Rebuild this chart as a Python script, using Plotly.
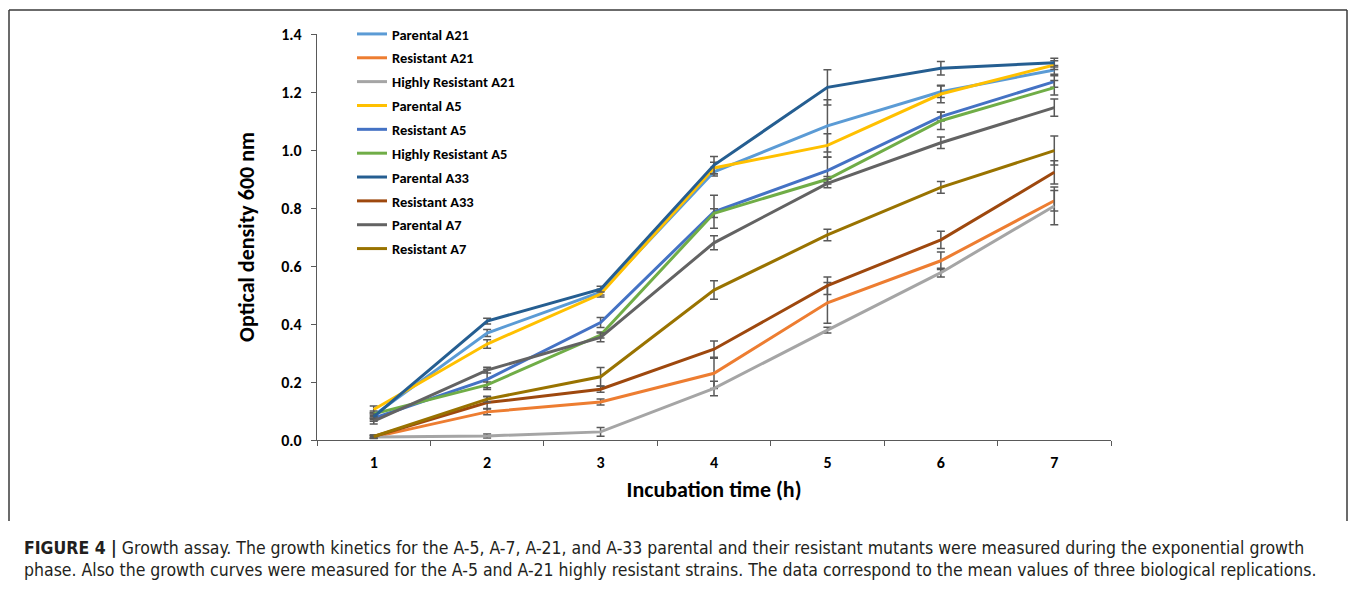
import plotly.graph_objects as go

time_h = [1, 2, 3, 4, 5, 6, 7]

series_names = [
    "Parental A21", "Resistant A21", "Highly Resistant A21", "Parental A5",
    "Resistant A5", "Highly Resistant A5", "Parental A33", "Resistant A33",
    "Parental A7", "Resistant A7",
]
series_colors = [
    "#5B9BD5", "#ED7D31", "#A5A5A5", "#FFC000", "#4472C4",
    "#70AD47", "#255E91", "#9E480E", "#636363", "#997300",
]

parental_a21 = [0.085, 0.369, 0.510, 0.925, 1.083, 1.201, 1.276]
resistant_a21 = [0.010, 0.097, 0.131, 0.230, 0.473, 0.618, 0.825]
highly_resistant_a21 = [0.010, 0.014, 0.028, 0.178, 0.379, 0.577, 0.807]
parental_a5 = [0.105, 0.331, 0.503, 0.938, 1.016, 1.193, 1.293]
resistant_a5 = [0.075, 0.209, 0.405, 0.787, 0.929, 1.115, 1.236]
highly_resistant_a5 = [0.090, 0.190, 0.362, 0.782, 0.899, 1.101, 1.215]
parental_a33 = [0.080, 0.410, 0.520, 0.948, 1.216, 1.282, 1.301]
resistant_a33 = [0.012, 0.129, 0.175, 0.313, 0.532, 0.690, 0.923]
parental_a7 = [0.065, 0.241, 0.354, 0.680, 0.885, 1.025, 1.146]
resistant_a7 = [0.012, 0.141, 0.218, 0.517, 0.707, 0.871, 0.998]

err_parental_a21 = [0.010, 0.012, 0.010, 0.015, 0.090, 0.020, 0.015]
err_resistant_a21 = [0.005, 0.010, 0.010, 0.052, 0.070, 0.030, 0.035]
err_highly_resistant_a21 = [0.003, 0.007, 0.015, 0.025, 0.010, 0.015, 0.065]
err_parental_a5 = [0.012, 0.015, 0.010, 0.020, 0.040, 0.030, 0.015]
err_resistant_a5 = [0.010, 0.035, 0.017, 0.057, 0.046, 0.015, 0.020]
err_highly_resistant_a5 = [0.010, 0.010, 0.010, 0.015, 0.010, 0.030, 0.025]
err_parental_a33 = [0.010, 0.010, 0.010, 0.030, 0.061, 0.023, 0.015]
err_resistant_a33 = [0.005, 0.020, 0.010, 0.028, 0.030, 0.030, 0.040]
err_parental_a7 = [0.010, 0.010, 0.015, 0.024, 0.015, 0.020, 0.030]
err_resistant_a7 = [0.005, 0.010, 0.032, 0.032, 0.020, 0.020, 0.050]

series_values = [
    parental_a21, resistant_a21, highly_resistant_a21, parental_a5, resistant_a5,
    highly_resistant_a5, parental_a33, resistant_a33, parental_a7, resistant_a7,
]
series_errors = [
    err_parental_a21, err_resistant_a21, err_highly_resistant_a21, err_parental_a5,
    err_resistant_a5, err_highly_resistant_a5, err_parental_a33, err_resistant_a33,
    err_parental_a7, err_resistant_a7,
]

y_ticks = [0.0, 0.2, 0.4, 0.6, 0.8, 1.0, 1.2, 1.4]

caption_line1 = ("<b>FIGURE 4 |</b> Growth assay. The growth kinetics for the A-5, A-7, A-21, and A-33 "
                 "parental and their resistant mutants were measured during the exponential growth")
caption_line2 = ("phase. Also the growth curves were measured for the A-5 and A-21 highly resistant strains. "
                 "The data correspond to the mean values of three biological replications.")

CHART_FONT = "Carlito, Lato, 'Open Sans', sans-serif"
CAP_FONT = "'Liberation Sans Narrow', 'DejaVu Sans Condensed', 'Arial Narrow', 'Roboto', sans-serif"

# page body has an 8px margin: size/shift the figure so it lands where the reference is
OFF = 8
W, H = 1357 - 2 * OFF, 589 - 2 * OFF
L = 317 - OFF
R = W - (1111 - OFF)
T = 34 - OFF
B = H - (440 - OFF)
PW, PH = W - L - R, H - T - B


def px_x(px):
    return (px - OFF - L) / PW


def px_y(py):
    return (H - B - (py - OFF)) / PH


def cont_y(py):
    return 1 - (py - OFF) / H


fig = go.Figure()
for name, color, vals, errs in zip(series_names, series_colors, series_values, series_errors):
    fig.add_trace(go.Scatter(
        x=time_h, y=vals, name=name, mode="lines", legendgroup=name,
        line=dict(color=color, width=3),
        error_y=dict(type="data", array=errs, visible=True, color="#595959",
                     thickness=1.5, width=4),
    ))

fig.update_layout(
    width=W, height=H,
    margin=dict(l=L, r=R, t=T, b=B, pad=0, autoexpand=False),
    plot_bgcolor="white", paper_bgcolor="white",
    font=dict(family=CHART_FONT, color="#000000"),
    showlegend=True,
    legend=dict(
        x=px_x(352), y=cont_y(18), yref="container", xanchor="left", yanchor="top",
        font=dict(family=CHART_FONT, size=14.5, color="#000000", weight="bold"),
        bgcolor="rgba(0,0,0,0)", itemwidth=30, tracegroupgap=2,
        traceorder="grouped",
    ),
    xaxis=dict(
        range=[0.5, 7.5], tickvals=time_h, ticktext=[str(t) for t in time_h],
        ticks="outside", ticklen=0, showline=True, linecolor="#595959", linewidth=1.3,
        showgrid=False, zeroline=False,
        tickfont=dict(size=16, weight="bold", color="#000000"),
        minor=dict(tick0=0.5, dtick=1, ticks="outside", ticklen=5, tickcolor="#595959",
                   tickwidth=1.3, showgrid=False),
        ticklabelstandoff=8,
        title=dict(text="Incubation time (h)", font=dict(size=22, weight="bold", color="#000000"),
                   standoff=10),
    ),
    yaxis=dict(
        range=[0, 1.4], tickvals=y_ticks, tickformat=".1f",
        ticks="outside", ticklen=5, tickcolor="#595959", tickwidth=1.3,
        showline=True, linecolor="#595959", linewidth=1.3,
        showgrid=False, zeroline=False,
        tickfont=dict(size=16, weight="bold", color="#000000"),
        ticklabelstandoff=6,
        title=dict(text="Optical density 600 nm", font=dict(size=22, weight="bold", color="#000000"),
                   standoff=20),
    ),
)

# outer frame (left, top, right), kept inside the figure's own area
fx0, fx1 = px_x(OFF + 1), px_x(OFF + W - 2)
fy0, fy1 = px_y(10), px_y(521)
for x0, y0, x1, y1 in [(fx0, fy1, fx0, fy0), (fx0, fy0, fx1, fy0), (fx1, fy0, fx1, fy1)]:
    fig.add_shape(type="line", xref="paper", yref="paper", x0=x0, y0=y0, x1=x1, y1=y1,
                  line=dict(color="#3a3a3a", width=1.5))

fig.add_annotation(text=caption_line1, xref="paper", yref="paper", x=px_x(22), y=px_y(548),
                   xanchor="left", yanchor="middle", showarrow=False, align="left",
                   font=dict(family=CAP_FONT, size=17.5, color="#231f20"))
fig.add_annotation(text=caption_line2, xref="paper", yref="paper", x=px_x(22), y=px_y(570),
                   xanchor="left", yanchor="middle", showarrow=False, align="left",
                   font=dict(family=CAP_FONT, size=17.5, color="#231f20"))

fig.write_html("out.html")
